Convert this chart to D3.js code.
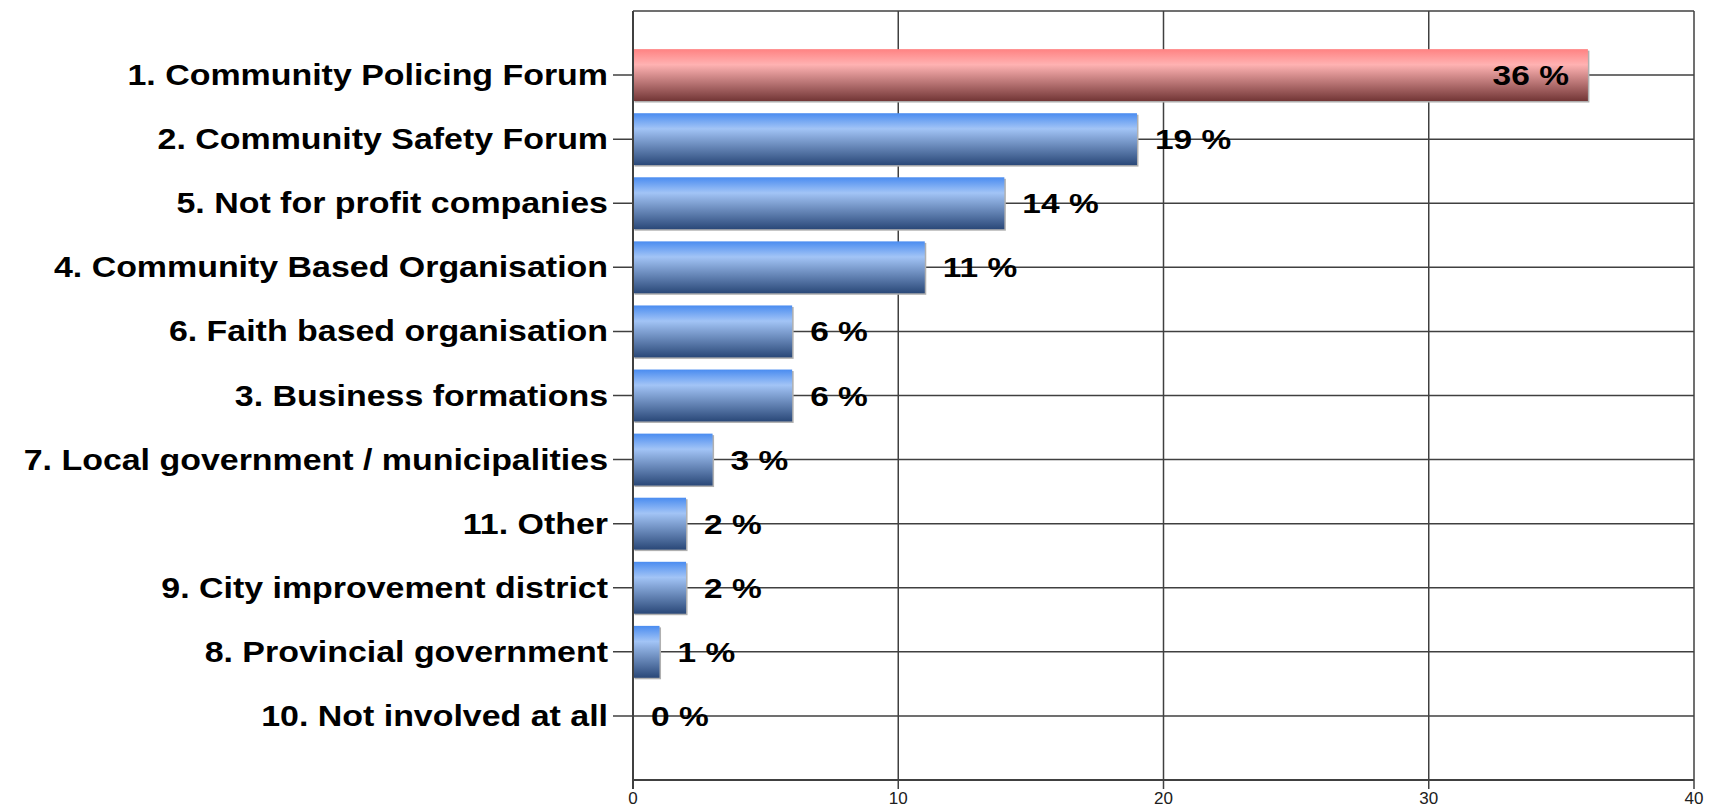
<!DOCTYPE html>
<html>
<head>
<meta charset="utf-8">
<script src="https://cdn.jsdelivr.net/npm/d3@7"></script>
<style>
  html, body { margin: 0; padding: 0; background: #ffffff; }
  svg { display: block; }
</style>
</head>
<body>
<svg id="chart" width="1717" height="810"></svg>
<script>
// ---- data ----
const categories = [
  "1. Community Policing Forum",
  "2. Community Safety Forum",
  "5. Not for profit companies",
  "4. Community Based Organisation",
  "6. Faith based organisation",
  "3. Business formations",
  "7. Local government / municipalities",
  "11. Other",
  "9. City improvement district",
  "8. Provincial government",
  "10. Not involved at all"
];
const values = [36, 19, 14, 11, 6, 6, 3, 2, 2, 1, 0];
const xTicks = [0, 10, 20, 30, 40];
const highlighted = ["1. Community Policing Forum"];

// ---- layout ----
const plotL = 633, plotR = 1694, plotT = 11, plotB = 780;
const svg = d3.select("#chart");

const x = d3.scaleLinear().domain([0, 40]).range([plotL, plotR]);
const y = d3.scalePoint().domain(categories).range([plotT, plotB]).padding(1);
const barH = y.step() * 0.81;

const defs = svg.append("defs");
function grad(id, c0, c1, c2) {
  const g = defs.append("linearGradient").attr("id", id)
    .attr("x1", 0).attr("y1", 0).attr("x2", 0).attr("y2", 1);
  g.append("stop").attr("offset", "0%").attr("stop-color", c0);
  g.append("stop").attr("offset", "30%").attr("stop-color", c1);
  g.append("stop").attr("offset", "100%").attr("stop-color", c2);
}
grad("gBlue", "#4a8cf0", "#a2c4f6", "#2a4878");
grad("gRed", "#ff8282", "#ffb2b2", "#723636");

const lineColor = "#404040";

// vertical grid lines
svg.append("g").selectAll("line").data(xTicks).join("line")
  .attr("x1", d => x(d)).attr("x2", d => x(d))
  .attr("y1", plotT).attr("y2", plotB + 9)
  .attr("stroke", lineColor).attr("stroke-width", 1.5);

// frame top
svg.append("line").attr("x1", plotL).attr("x2", plotR).attr("y1", plotT).attr("y2", plotT)
  .attr("stroke", lineColor).attr("stroke-width", 1.5);
// bottom axis line
svg.append("line").attr("x1", plotL).attr("x2", plotR).attr("y1", plotB).attr("y2", plotB)
  .attr("stroke", lineColor).attr("stroke-width", 2);

// horizontal grid lines + left ticks
svg.append("g").selectAll("line").data(categories).join("line")
  .attr("x1", plotL - 20).attr("x2", plotR)
  .attr("y1", d => y(d)).attr("y2", d => y(d))
  .attr("stroke", lineColor).attr("stroke-width", 1.5);

// x tick labels
svg.append("g").selectAll("text").data(xTicks).join("text")
  .attr("x", d => x(d)).attr("y", plotB + 24)
  .attr("text-anchor", "middle")
  .attr("font-family", "Liberation Sans, Arial, sans-serif")
  .attr("font-size", 17)
  .attr("fill", "#202020")
  .text(d => d);

// bars
const rows = categories.map((c, i) => ({ c, v: values[i] }));
const bars = svg.append("g");
bars.selectAll("rect.shadow").data(rows.filter(d => d.v > 0)).join("rect")
  .attr("class", "shadow")
  .attr("x", x(0) + 1.5).attr("y", d => y(d.c) - barH / 2 + 1.5)
  .attr("width", d => x(d.v) - x(0)).attr("height", barH)
  .attr("fill", "#b0b0b0");
bars.selectAll("rect.bar").data(rows.filter(d => d.v > 0)).join("rect")
  .attr("class", "bar")
  .attr("x", x(0)).attr("y", d => y(d.c) - barH / 2)
  .attr("width", d => x(d.v) - x(0)).attr("height", barH)
  .attr("fill", d => highlighted.includes(d.c) ? "url(#gRed)" : "url(#gBlue)");

// left axis line
svg.append("line").attr("x1", plotL).attr("x2", plotL).attr("y1", plotT).attr("y2", plotB + 9)
  .attr("stroke", lineColor).attr("stroke-width", 2);

// category labels
svg.append("g").selectAll("text").data(categories).join("text")
  .attr("transform", d => `translate(${plotL - 25},${y(d) + 10}) scale(1.17,1)`)
  .attr("text-anchor", "end")
  .attr("font-family", "Liberation Sans, Arial, sans-serif")
  .attr("font-weight", "bold")
  .attr("font-size", 29)
  .attr("fill", "#000")
  .text(d => d);

// value labels
svg.append("g").selectAll("text").data(rows).join("text")
  .attr("transform", d => {
    const inside = d.v >= 30;
    const px = inside ? x(d.v) - 19 : x(d.v) + 18;
    return `translate(${px},${y(d.c) + 10}) scale(1.24,1)`;
  })
  .attr("text-anchor", d => d.v >= 30 ? "end" : "start")
  .attr("font-family", "Liberation Sans, Arial, sans-serif")
  .attr("font-weight", "bold")
  .attr("font-size", 27)
  .attr("fill", "#000")
  .text(d => d.v + " %");
</script>
</body>
</html>
